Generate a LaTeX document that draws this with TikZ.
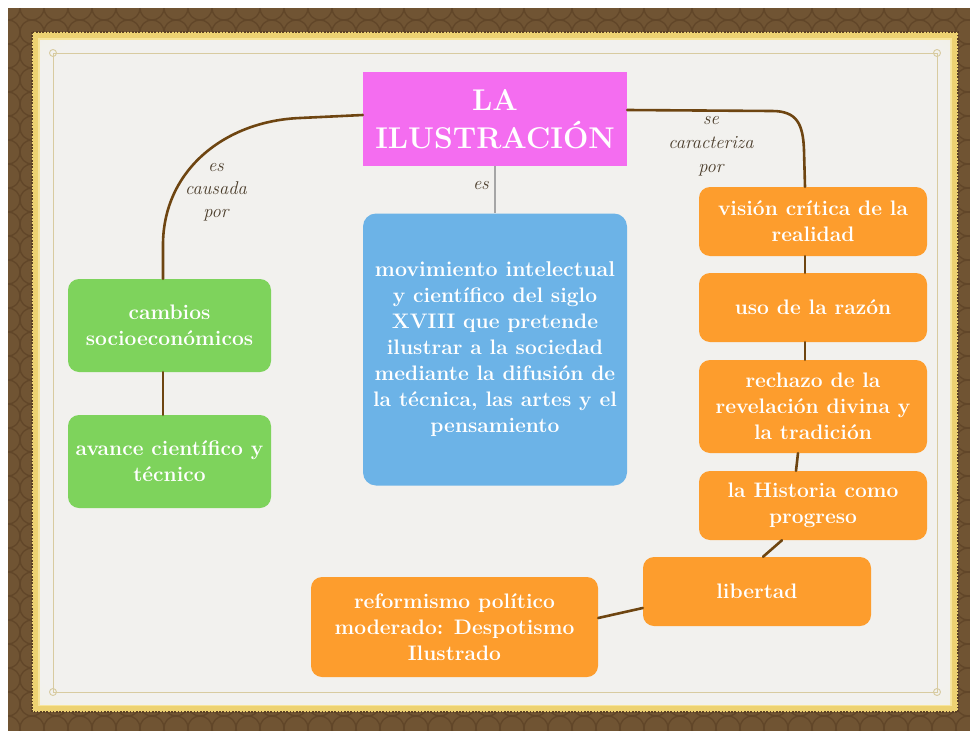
\documentclass[tikz,border=0pt]{standalone}
\usepackage{fontspec}
\definecolor{frameBrown}{HTML}{705433}
\definecolor{frameDark}{HTML}{5B4025}
\definecolor{goldA}{HTML}{EDD272}
\definecolor{goldB}{HTML}{F7E59C}
\definecolor{paper}{HTML}{F2F1EE}
\definecolor{vig}{HTML}{F6ECC2}
\definecolor{innerLine}{HTML}{D8CBA0}
\definecolor{pinkT}{HTML}{F46DF0}
\definecolor{blueM}{HTML}{6CB3E7}
\definecolor{greenC}{HTML}{7ED35C}
\definecolor{orangeC}{HTML}{FD9D2D}
\definecolor{conn}{HTML}{6E4511}
\definecolor{lblc}{HTML}{4A3C2A}
\pgfdeclareradialshading{vignette}{\pgfpoint{0bp}{0bp}}{color(0bp)=(paper); color(34bp)=(paper); color(46bp)=(vig); color(54bp)=(goldB); color(72bp)=(goldB)}
\tikzset{
  box/.style={rounded corners=11pt, text=white, inner sep=0pt, align=center,
    font=\bfseries\fontsize{21}{26}\selectfont},
  obox/.style={box, fill=orangeC, minimum width=228pt},
  gbox/.style={box, fill=greenC, minimum width=203pt, minimum height=93pt},
  link/.style={draw=conn, line width=2.6pt, line cap=round},
  lbl/.style={text=lblc, align=center, inner sep=0pt, font=\itshape\fontsize{18.5}{23}\selectfont}
}
\begin{document}
\begin{tikzpicture}[x=1pt,y=-1pt]
\useasboundingbox (0,0) rectangle (970,731);
\fill[white] (0,0) rectangle (970,731);
% brown frame with pattern
\fill[frameBrown] (8,8) rectangle (970,731);
\begin{scope}
\clip (8,8) rectangle (970,731);
\foreach \i in {0,...,40} {
  \foreach \j in {0,...,30} {
    \draw[frameDark!70!frameBrown, line width=1.3pt] (8+\i*24, 8+\j*24) circle[radius=12];
  }
}
\end{scope}
% gold band
\fill[goldA] (32,32) rectangle (958,712);
\draw[frameDark, line width=1.6pt, dash pattern=on 1.6pt off 1.6pt] (32,32) rectangle (958,712);
\fill[goldB] (38,38) rectangle (952,706);
\shade[shading=vignette] (40,40) rectangle (950,704);
\draw[innerLine, line width=0.9pt] (53,53) rectangle (937,692);
\foreach \p in {(53,53),(937,53),(53,692),(937,692)} \draw[innerLine, line width=0.9pt] \p circle[radius=3.5];

% nodes
\node[fill=pinkT, minimum width=264pt, minimum height=94pt, inner sep=0pt, text=white, align=center,
  font=\bfseries\fontsize{30}{38}\selectfont] (title) at (495,119) {LA\\ILUSTRACIÓN};
\node[box, fill=blueM, minimum width=264pt, minimum height=272pt, rounded corners=13pt] (blue) at (495,349.5)
  {\fontsize{21.4}{27}\selectfont movimiento intelectual\\y científico del siglo\\XVIII que pretende\\ilustrar a la sociedad\\mediante la difusión de\\la técnica, las artes y el\\pensamiento};
\node[gbox] (g1) at (169.5,325.5) {cambios\\socioeconómicos};
\node[gbox] (g2) at (169.5,461.5) {avance científico y\\técnico};
\node[obox, minimum height=69pt] (o1) at (813,221.5) {\fontsize{21}{25}\selectfont visión crítica de la\\realidad};
\node[obox, minimum height=69pt] (o2) at (813,307.5) {uso de la razón};
\node[obox, minimum height=93pt] (o3) at (813,406.5) {\fontsize{21}{25}\selectfont rechazo de la\\revelación divina y\\la tradición};
\node[obox, minimum height=69pt] (o4) at (813,505.5) {\fontsize{21}{25}\selectfont la Historia como\\progreso};
\node[obox, minimum height=69pt] (o5) at (757,591.5) {libertad};
\node[box, fill=orangeC, minimum width=287pt, minimum height=100pt] (o6) at (454.5,627) {reformismo político\\moderado: Despotismo\\Ilustrado};

% labels
\node[lbl] (la) at (216,192) {es\\causada\\por};
\node[lbl, font=\itshape\fontsize{18.5}{24}\selectfont] (lb) at (711,146) {se\\caracteriza\\por};
\node[lbl] (lc) at (481,186) {es};

% connectors
\draw[draw=gray!70, line width=1.8pt] (title.south) -- (blue.north);
\draw[link] ([yshift=4pt]title.west) -- (300,118) .. controls (225,121) and (163,170) .. (163,245) -- ([xshift=-6.5pt]g1.north);
\draw[link] ([xshift=-6.5pt]g1.south) -- ([xshift=-6.5pt]g2.north);
\draw[link] ([yshift=9pt]title.east) -- (772,111) .. controls (797,111) and (803,124) .. (804,150) -- ([xshift=-8pt]o1.north);
\draw[link] ([xshift=-8pt]o1.south) -- ([xshift=-8pt]o2.north);
\draw[link] ([xshift=-8pt]o2.south) -- ([xshift=-8pt]o3.north);
\draw[link] ([xshift=-15pt]o3.south) -- ([xshift=-17pt]o4.north);
\draw[link] ([xshift=-31pt]o4.south) -- ([xshift=6pt]o5.north);
\draw[link] ([yshift=-16.5pt]o5.west) -- ([yshift=9pt]o6.east);
\end{tikzpicture}
\end{document}
